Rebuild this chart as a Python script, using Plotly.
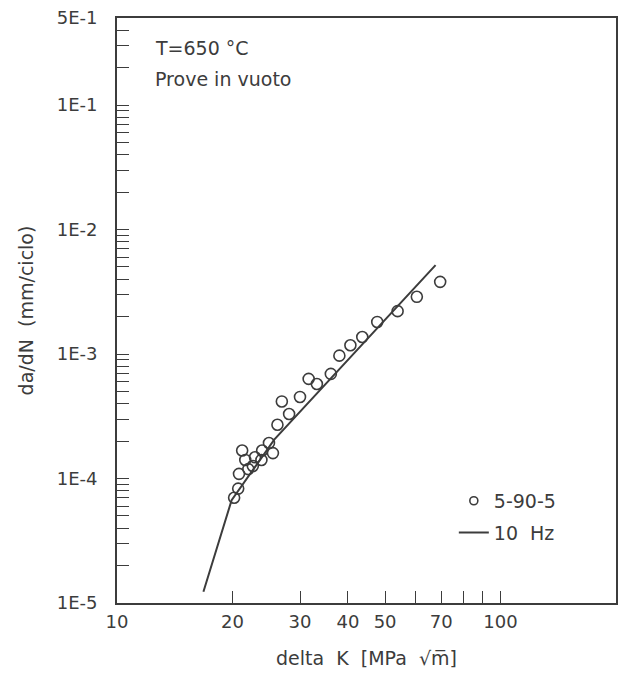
import plotly.graph_objects as go

# ---- data ----
dk_points = [20.2, 20.7, 20.8, 21.2, 21.6, 22.0, 22.6, 22.9, 23.8, 23.9, 24.9, 25.5,
             26.2, 26.9, 28.1, 30.0, 31.6, 33.2, 36.1, 38.0, 40.6, 43.6, 47.7, 53.9,
             60.5, 69.6]
dadn_points = [7.0e-5, 8.3e-5, 1.09e-4, 1.68e-4, 1.41e-4, 1.19e-4, 1.26e-4, 1.48e-4,
               1.41e-4, 1.68e-4, 1.93e-4, 1.60e-4, 2.70e-4, 4.16e-4, 3.30e-4, 4.52e-4,
               6.31e-4, 5.74e-4, 6.92e-4, 9.70e-4, 1.175e-3, 1.37e-3, 1.81e-3, 2.21e-3,
               2.88e-3, 3.80e-3]

dk_line = [16.8, 19.9, 25.7, 67.7]
dadn_line = [1.23e-5, 6.7e-5, 2.05e-4, 5.17e-3]

x_tickvals = [10, 20, 30, 40, 50, 60, 70, 80, 90, 100]
x_ticktext = ["10", "20", "30", "40", "50", "", "70", "", "", "100"]

y_major = [1e-5, 1e-4, 1e-3, 1e-2, 1e-1, 5e-1]
y_major_text = ["1E-5", "1E-4", "1E-3", "1E-2", "1E-1", "5E-1"]

ink = "#3c3c3c"
font_family = "DejaVu Sans"

# all y ticks (majors + minors 2..9)
y_tickvals, y_ticktext = [], []
for e in range(-5, 0):
    for m in range(1, 10):
        v = m * 10 ** e
        if v > 0.5 + 1e-12:
            break
        y_tickvals.append(v)
        lab = ""
        for mv, mt in zip(y_major, y_major_text):
            if abs(mv - v) / mv < 1e-9:
                lab = mt
        y_ticktext.append(lab)

fig = go.Figure()

fig.add_trace(go.Scatter(
    x=dk_line, y=dadn_line, mode="lines",
    line=dict(color=ink, width=2),
    showlegend=False, hoverinfo="skip"))

fig.add_trace(go.Scatter(
    x=dk_points, y=dadn_points, mode="markers",
    marker=dict(symbol="circle-open", size=11, color=ink, line=dict(width=1.6, color=ink)),
    showlegend=False))

# legend entries
fig.add_trace(go.Scatter(
    x=[None], y=[None], mode="markers", name="5-90-5", legendgroup="a",
    marker=dict(symbol="circle-open", size=8, color=ink, line=dict(width=1.6, color=ink))))
fig.add_trace(go.Scatter(
    x=[None], y=[None], mode="lines", name="10  Hz", legendgroup="b",
    line=dict(color=ink, width=2)))

axis_common = dict(
    showline=True, linecolor=ink, linewidth=1.8, mirror=True,
    ticks="inside", ticklen=12, tickwidth=1.3, tickcolor=ink,
    showgrid=False, zeroline=False,
    tickfont=dict(family=font_family, size=18, color=ink),
)

fig.update_xaxes(
    type="log", range=[1, 2.30103],
    tickmode="array", tickvals=x_tickvals, ticktext=x_ticktext,
    title=dict(text="delta  K  [MPa  √m̅]", font=dict(family=font_family, size=19, color=ink),
               standoff=21),
    ticklabelstandoff=1,
    **axis_common)

fig.update_yaxes(
    type="log", range=[-5, -0.30103],
    tickmode="array", tickvals=y_tickvals, ticktext=y_ticktext,
    title=dict(text="da/dN  (mm/ciclo)", font=dict(family=font_family, size=19, color=ink),
               standoff=18),
    ticklabelstandoff=14,
    **axis_common)

fig.add_annotation(text="T=650 °C", xref="paper", yref="paper", x=0.072, y=0.949,
                   xanchor="left", yanchor="middle", showarrow=False,
                   font=dict(family=font_family, size=19, color=ink))
fig.add_annotation(text="Prove in vuoto", xref="paper", yref="paper", x=0.072, y=0.896,
                   xanchor="left", yanchor="middle", showarrow=False,
                   font=dict(family=font_family, size=19, color=ink))

fig.update_layout(
    width=621, height=677,
    margin=dict(l=117, r=3, t=18, b=74),
    paper_bgcolor="white", plot_bgcolor="white",
    showlegend=True,
    legend=dict(x=0.675, y=0.207, xanchor="left", yanchor="top",
                bgcolor="rgba(0,0,0,0)", borderwidth=0, tracegroupgap=4,
                font=dict(family=font_family, size=19, color=ink)),
    font=dict(family=font_family, color=ink),
)

fig.write_html("out.html")
